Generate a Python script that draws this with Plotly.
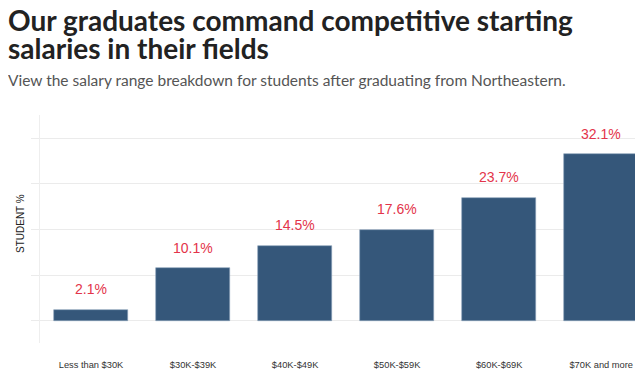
import plotly.graph_objects as go

categories = ["Less than $30K", "$30K-$39K", "$40K-$49K", "$50K-$59K", "$60K-$69K", "$70K and more"]
student_pct = [2.1, 10.1, 14.5, 17.6, 23.7, 32.1]
grid_vals = [0, 8.8, 17.6, 26.4, 35.2]

title_lines = ["Our graduates command competitive starting", "salaries in their fields"]
subtitle_text = "View the salary range breakdown for students after graduating from Northeastern."

# figure is drawn inside a page with an 8px body margin
W, H = 643, 365
L, R, T, B = 32, 0, 107, 30
PW, PH = W - L - R, H - T - B


def px_x(x):
    return (x - L) / PW


def px_y(y):
    return (H - B - y) / PH


fig = go.Figure()
fig.add_trace(go.Bar(
    x=list(range(len(categories))),
    y=student_pct,
    width=0.72,
    marker=dict(color="#35577a", line=dict(color="#8aa0b8", width=0.6)),
    hoverinfo="skip",
))

for i, v in enumerate(student_pct):
    fig.add_annotation(
        x=i, y=v, xref="x", yref="y",
        text=f"{v}%", showarrow=False,
        yanchor="middle", yshift=20.5,
        font=dict(family="Liberation Sans, Arial", size=14, color="#e3344a"),
    )

fig.add_annotation(
    xref="paper", yref="paper", x=px_x(12), y=px_y(216), xanchor="center", yanchor="middle",
    text="STUDENT %", textangle=-90, showarrow=False,
    font=dict(family="Liberation Sans, Arial", size=10, color="#222222"),
)

for line, yc in zip(title_lines, [12, 39.5]):
    fig.add_annotation(
        xref="paper", yref="paper", x=px_x(-2), y=px_y(yc),
        xanchor="left", yanchor="middle",
        text=line, showarrow=False,
        font=dict(family="Lato", size=28, color="#222222", weight="bold"),
    )

fig.add_annotation(
    xref="paper", yref="paper", x=px_x(-2), y=px_y(72),
    xanchor="left", yanchor="middle",
    text=subtitle_text, showarrow=False,
    font=dict(family="Lato", size=15.5, color="#555555"),
)

fig.update_layout(
    width=W, height=H,
    margin=dict(l=L, r=R, t=T, b=B),
    paper_bgcolor="white", plot_bgcolor="white",
    showlegend=False,
    bargap=0,
)

fig.update_xaxes(
    range=[-0.5, 5.488],
    tickvals=list(range(len(categories))),
    ticktext=categories,
    showgrid=False, zeroline=False, showline=False,
    ticks="", ticklabelstandoff=15,
    tickfont=dict(family="Liberation Sans, Arial", size=9.3, color="#333333"),
)

fig.update_yaxes(
    range=[-4.3, 39.7],
    tickvals=grid_vals,
    showticklabels=False,
    showgrid=True, gridcolor="#ebebeb", gridwidth=1,
    zeroline=False,
    showline=True, linecolor="#eeeeee", linewidth=1,
    ticks="outside", ticklen=8, tickcolor="#ebebeb",
)

fig.write_html("out.html")
